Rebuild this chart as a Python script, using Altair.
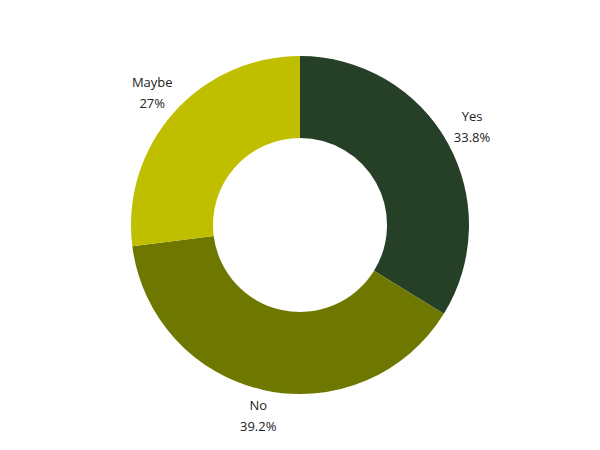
import altair as alt
import pandas as pd

categories = ["Yes", "No", "Maybe"]
values = [33.8, 39.2, 27.0]
pct_labels = ["33.8%", "39.2%", "27%"]
colors = ["#263f27", "#6e7800", "#bfbf00"]

df = pd.DataFrame({
    "category": categories,
    "value": values,
    "order": list(range(len(categories))),
    "label": [f"{c}\n{p}" for c, p in zip(categories, pct_labels)],
})

base = alt.Chart(df).encode(
    theta=alt.Theta("value:Q", stack=True),
    order=alt.Order("order:Q", sort="ascending"),
)

arcs = base.mark_arc(outerRadius=169, innerRadius=87).encode(
    color=alt.Color("category:N", scale=alt.Scale(domain=categories, range=colors), legend=None)
)

text = base.mark_text(radius=197, fontSize=13, font="Open Sans", color="#222222",
                      lineBreak="\n", lineHeight=21, baseline="middle", align="center",
                      dy=-12).encode(
    text="label:N"
)

chart = (arcs + text).properties(width=584, height=434, padding=0).configure_view(stroke=None)

chart.save("out.html", embed_options={"renderer": "svg", "actions": False})
